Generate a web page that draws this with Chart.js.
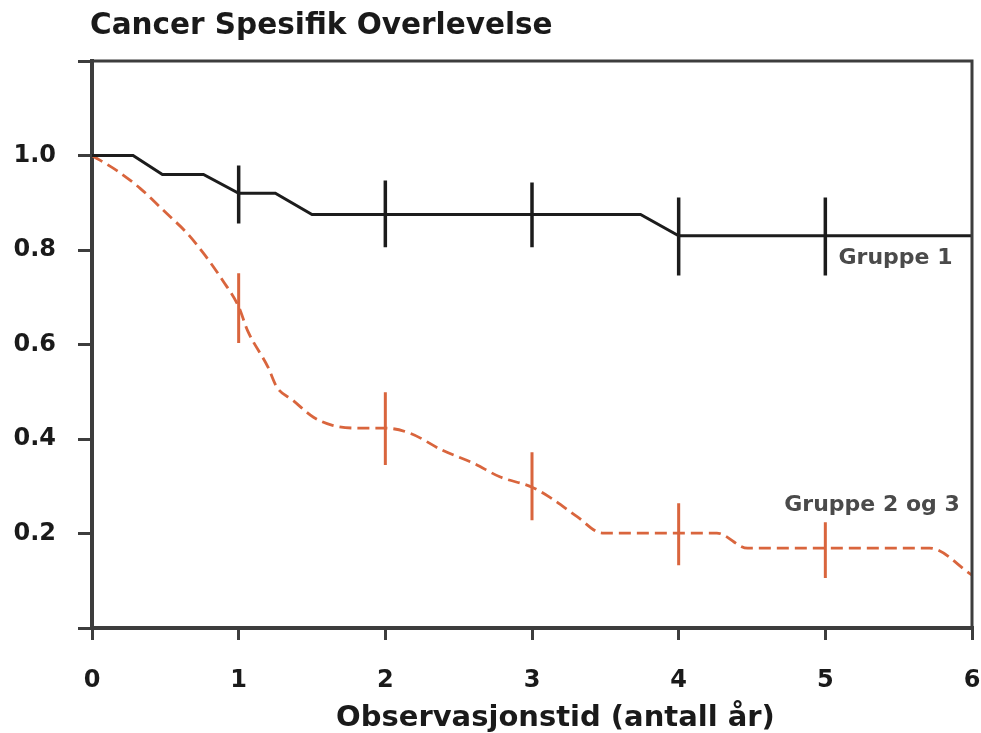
<!DOCTYPE html>
<html>
<head>
<meta charset="utf-8">
<title>Cancer Spesifik Overlevelse</title>
<script src="https://cdn.jsdelivr.net/npm/chart.js@4/dist/chart.umd.min.js"></script>
<style>
    body { margin: 0; background: #ffffff; }
    #boks { width: 981px; height: 733px; position: relative; }
</style>
</head>
<body>
<div id="boks"><canvas id="grafico_overlevelse"></canvas></div>
<script>
// Gruppe 1 (svart, heltrukken)
let g1Tid = [0, 0.28, 0.48, 0.76, 1.0, 1.25, 1.5, 3.74, 4.0, 6.0];
let g1Overlevelse = [1.0, 1.0, 0.96, 0.96, 0.92, 0.92, 0.875, 0.875, 0.83, 0.83];

// Gruppe 2 og 3 (oransje, stiplet)
let g2Tid = [0, 0.17, 0.33, 0.51, 0.65, 0.77, 0.89, 1.0, 1.06, 1.2, 1.26, 1.37, 1.51, 1.64, 1.81, 2.0,
    2.17, 2.39, 2.6, 2.78, 3.0, 3.12, 3.31, 3.48, 4.0, 4.26, 4.47, 5.71, 6.0];
let g2Overlevelse = [1.0, 0.968, 0.93, 0.877, 0.835, 0.789, 0.736, 0.68, 0.63, 0.552, 0.51, 0.482, 0.446, 0.429, 0.423, 0.423,
    0.412, 0.376, 0.349, 0.32, 0.298, 0.277, 0.235, 0.201, 0.201, 0.201, 0.169, 0.169, 0.112];

// Konfidensintervall ved hele år
let feilTid = [1, 2, 3, 4, 5];
let g1Nedre = [0.856, 0.806, 0.806, 0.746, 0.746];
let g1Ovre = [0.979, 0.947, 0.943, 0.911, 0.911];
let g2Nedre = [0.603, 0.345, 0.228, 0.133, 0.106];
let g2Ovre = [0.751, 0.499, 0.372, 0.264, 0.224];

let gruppeNavn = ["Gruppe 1", "Gruppe 2 og 3"];
let tittel = "Cancer Spesifik Overlevelse";
let xTittel = "Observasjonstid (antall år)";

let svart = "#1c1c1c";
let oransje = "#d9653d";
let rammeFarge = "#3d3d3d";

function lagPunkter(xs, ys) {
    let punkter = [];
    for (let i = 0; i < xs.length; i++) {
        punkter.push({ x: xs[i], y: ys[i] });
    }
    return punkter;
}

function lagFeilstreker(xs, nedre, ovre) {
    let punkter = [];
    for (let i = 0; i < xs.length; i++) {
        punkter.push({ x: xs[i], y: nedre[i] });
        punkter.push({ x: xs[i], y: ovre[i] });
        punkter.push({ x: xs[i], y: null });
    }
    return punkter;
}

// tittel, aksetittel, ramme og gruppetekster
let tegnEkstra = {
    id: "tegnEkstra",
    afterDraw: function (chart) {
        let ctx = chart.ctx;
        let omr = chart.chartArea;
        let xs = chart.scales.x;
        let ys = chart.scales.y;

        ctx.save();
        ctx.strokeStyle = rammeFarge;
        ctx.lineWidth = 3;
        ctx.beginPath();
        ctx.moveTo(omr.left, omr.top);
        ctx.lineTo(omr.right, omr.top);
        ctx.lineTo(omr.right, omr.bottom);
        ctx.stroke();

        ctx.fillStyle = "#1a1a1a";
        ctx.font = "bold 29.5px 'DejaVu Sans'";
        ctx.textAlign = "left";
        ctx.textBaseline = "middle";
        ctx.fillText(tittel, omr.left - 2, 26);

        ctx.font = "bold 29px 'DejaVu Sans'";
        ctx.textAlign = "center";
        ctx.fillText(xTittel, xs.getPixelForValue(3.16), 718);

        ctx.fillStyle = "#4a4a4a";
        ctx.textAlign = "left";
        ctx.font = "bold 22px 'DejaVu Sans'";
        ctx.fillText(gruppeNavn[0], xs.getPixelForValue(5.09), ys.getPixelForValue(0.782));
        ctx.fillText(gruppeNavn[1], xs.getPixelForValue(4.72), ys.getPixelForValue(0.26));
        ctx.restore();
    }
};

let ctxGraf = document.getElementById("grafico_overlevelse");

let grafOverlevelse = new Chart(ctxGraf, {
    type: "scatter",
    data: {
        datasets: [
            {
                label: gruppeNavn[0],
                data: lagPunkter(g1Tid, g1Overlevelse),
                showLine: true,
                borderColor: svart,
                borderWidth: 3,
                pointRadius: 0,
                tension: 0
            },
            {
                label: gruppeNavn[0] + " KI",
                data: lagFeilstreker(feilTid, g1Nedre, g1Ovre),
                showLine: true,
                spanGaps: false,
                borderColor: svart,
                borderWidth: 3.5,
                pointRadius: 0
            },
            {
                label: gruppeNavn[1],
                data: lagPunkter(g2Tid, g2Overlevelse),
                showLine: true,
                borderColor: oransje,
                borderWidth: 2.8,
                borderDash: [12, 6],
                pointRadius: 0,
                cubicInterpolationMode: "monotone"
            },
            {
                label: gruppeNavn[1] + " KI",
                data: lagFeilstreker(feilTid, g2Nedre, g2Ovre),
                showLine: true,
                spanGaps: false,
                borderColor: oransje,
                borderWidth: 3,
                pointRadius: 0
            }
        ]
    },
    options: {
        responsive: true,
        maintainAspectRatio: false,
        animation: false,
        layout: {
            padding: { top: 61, right: 9, left: 0, bottom: 0 }
        },
        plugins: {
            legend: { display: false },
            tooltip: { enabled: false }
        },
        scales: {
            x: {
                type: "linear",
                min: 0,
                max: 6,
                afterFit: function (skala) {
                    skala.height = 105;
                    skala.paddingLeft = 0;
                    skala.paddingRight = 0;
                },
                ticks: {
                    stepSize: 1,
                    color: "#1a1a1a",
                    padding: 26,
                    font: { family: "DejaVu Sans", weight: "bold", size: 24 }
                },
                grid: {
                    drawOnChartArea: false,
                    drawTicks: true,
                    tickLength: 12,
                    color: rammeFarge,
                    lineWidth: 3
                },
                border: { display: true, color: rammeFarge, width: 4 }
            },
            y: {
                type: "linear",
                min: 0,
                max: 1.2,
                afterFit: function (skala) {
                    skala.width = 92;
                    skala.paddingTop = 0;
                    skala.paddingBottom = 0;
                },
                ticks: {
                    stepSize: 0.2,
                    color: "#1a1a1a",
                    padding: 22,
                    font: { family: "DejaVu Sans", weight: "bold", size: 24 },
                    callback: function (verdi) {
                        if (verdi > 0.01 && verdi < 1.19) {
                            return verdi.toFixed(1);
                        }
                        return "";
                    }
                },
                grid: {
                    drawOnChartArea: false,
                    drawTicks: true,
                    tickLength: 14,
                    color: rammeFarge,
                    lineWidth: 3
                },
                border: { display: true, color: rammeFarge, width: 4 }
            }
        }
    },
    plugins: [tegnEkstra]
});
</script>
</body>
</html>
